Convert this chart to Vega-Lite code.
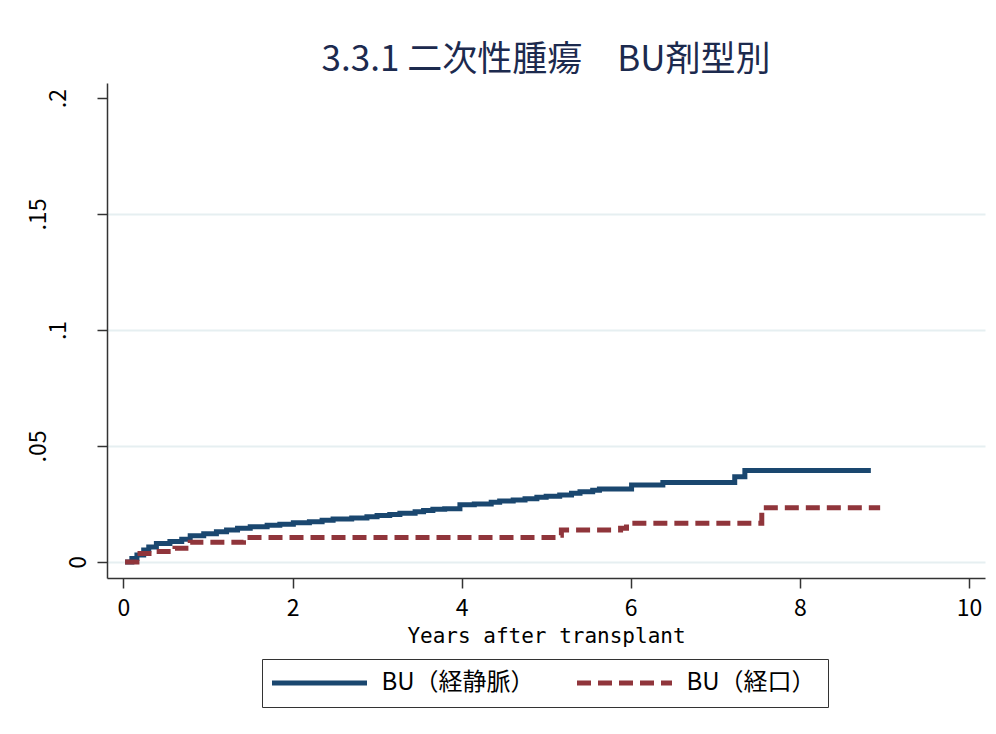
{
  "$schema": "https://vega.github.io/schema/vega-lite/v6.json",
  "width": 878,
  "height": 495,
  "autosize": {"type": "none"},
  "padding": {"left": 107, "top": 83, "right": 11, "bottom": 156},
  "background": "white",
  "config": {
    "view": {"stroke": null},
    "legend": {
      "title": null,
      "orient": "none",
      "legendX": 155,
      "legendY": 576,
      "direction": "horizontal",
      "columns": 2,
      "strokeColor": "#333333",
      "fillColor": "white",
      "padding": 12,
      "symbolType": "M-5,0H5",
      "symbolSize": 361,
      "symbolStrokeWidth": 5,
      "symbolOffset": 33.5,
      "labelOffset": 50,
      "labelFont": "Noto Sans CJK JP",
      "labelFontSize": 24,
      "labelColor": "#000000",
      "columnPadding": 32,
      "labelLimit": 300
    }
  },
  "title": {
    "text": "3.3.1 二次性腫瘍　BU剤型別",
    "font": "Noto Sans CJK JP",
    "fontSize": 35,
    "fontWeight": "normal",
    "color": "#1c2a4e",
    "anchor": "middle",
    "baseline": "alphabetic",
    "offset": 9,
    "dy": 32
  },
  "data": {
    "values": [
      {"group": "BU（経静脈）", "years": 0.02, "ci": 0},
      {"group": "BU（経静脈）", "years": 0.1, "ci": 0.0015},
      {"group": "BU（経静脈）", "years": 0.16, "ci": 0.003},
      {"group": "BU（経静脈）", "years": 0.24, "ci": 0.0052},
      {"group": "BU（経静脈）", "years": 0.3, "ci": 0.0065},
      {"group": "BU（経静脈）", "years": 0.39, "ci": 0.008},
      {"group": "BU（経静脈）", "years": 0.55, "ci": 0.0088},
      {"group": "BU（経静脈）", "years": 0.69, "ci": 0.0098},
      {"group": "BU（経静脈）", "years": 0.79, "ci": 0.0113},
      {"group": "BU（経静脈）", "years": 0.95, "ci": 0.0122},
      {"group": "BU（経静脈）", "years": 1.1, "ci": 0.013},
      {"group": "BU（経静脈）", "years": 1.22, "ci": 0.0138},
      {"group": "BU（経静脈）", "years": 1.35, "ci": 0.0145},
      {"group": "BU（経静脈）", "years": 1.5, "ci": 0.0152},
      {"group": "BU（経静脈）", "years": 1.7, "ci": 0.0158},
      {"group": "BU（経静脈）", "years": 1.85, "ci": 0.0163},
      {"group": "BU（経静脈）", "years": 2.01, "ci": 0.0169},
      {"group": "BU（経静脈）", "years": 2.2, "ci": 0.0174},
      {"group": "BU（経静脈）", "years": 2.35, "ci": 0.018},
      {"group": "BU（経静脈）", "years": 2.48, "ci": 0.0185},
      {"group": "BU（経静脈）", "years": 2.7, "ci": 0.019},
      {"group": "BU（経静脈）", "years": 2.88, "ci": 0.0195},
      {"group": "BU（経静脈）", "years": 3.0, "ci": 0.02},
      {"group": "BU（経静脈）", "years": 3.15, "ci": 0.0205},
      {"group": "BU（経静脈）", "years": 3.27, "ci": 0.021},
      {"group": "BU（経静脈）", "years": 3.45, "ci": 0.0217},
      {"group": "BU（経静脈）", "years": 3.55, "ci": 0.0222},
      {"group": "BU（経静脈）", "years": 3.66, "ci": 0.0227},
      {"group": "BU（経静脈）", "years": 3.8, "ci": 0.023},
      {"group": "BU（経静脈）", "years": 3.98, "ci": 0.0247},
      {"group": "BU（経静脈）", "years": 4.15, "ci": 0.025},
      {"group": "BU（経静脈）", "years": 4.35, "ci": 0.0258},
      {"group": "BU（経静脈）", "years": 4.45, "ci": 0.0263},
      {"group": "BU（経静脈）", "years": 4.61, "ci": 0.0267},
      {"group": "BU（経静脈）", "years": 4.75, "ci": 0.0273},
      {"group": "BU（経静脈）", "years": 4.89, "ci": 0.0279},
      {"group": "BU（経静脈）", "years": 5.0, "ci": 0.0283},
      {"group": "BU（経静脈）", "years": 5.16, "ci": 0.0289},
      {"group": "BU（経静脈）", "years": 5.3, "ci": 0.0296},
      {"group": "BU（経静脈）", "years": 5.4, "ci": 0.0303},
      {"group": "BU（経静脈）", "years": 5.55, "ci": 0.0309},
      {"group": "BU（経静脈）", "years": 5.63, "ci": 0.0315},
      {"group": "BU（経静脈）", "years": 6.01, "ci": 0.0332},
      {"group": "BU（経静脈）", "years": 6.38, "ci": 0.0343},
      {"group": "BU（経静脈）", "years": 7.23, "ci": 0.0368},
      {"group": "BU（経静脈）", "years": 7.35, "ci": 0.0394},
      {"group": "BU（経静脈）", "years": 8.84, "ci": 0.0394},
      {"group": "BU（経口）", "years": 0.02, "ci": 0},
      {"group": "BU（経口）", "years": 0.16, "ci": 0.0037},
      {"group": "BU（経口）", "years": 0.39, "ci": 0.0045},
      {"group": "BU（経口）", "years": 0.61, "ci": 0.0059},
      {"group": "BU（経口）", "years": 0.79, "ci": 0.0085},
      {"group": "BU（経口）", "years": 1.42, "ci": 0.0095},
      {"group": "BU（経口）", "years": 1.45, "ci": 0.0106},
      {"group": "BU（経口）", "years": 5.12, "ci": 0.0115},
      {"group": "BU（経口）", "years": 5.18, "ci": 0.0138},
      {"group": "BU（経口）", "years": 5.88, "ci": 0.0145},
      {"group": "BU（経口）", "years": 5.95, "ci": 0.0167},
      {"group": "BU（経口）", "years": 7.55, "ci": 0.0234},
      {"group": "BU（経口）", "years": 8.95, "ci": 0.0234}
    ]
  },
  "mark": {"type": "line", "interpolate": "step-after", "strokeWidth": 5, "clip": true},
  "encoding": {
    "x": {
      "field": "years",
      "type": "quantitative",
      "scale": {"domain": [-0.194, 10.19], "nice": false, "zero": false},
      "axis": {
        "values": [0, 2, 4, 6, 8, 10],
        "format": "d",
        "grid": false,
        "tickSize": 10,
        "tickColor": "#333333",
        "tickWidth": 1.5,
        "domainColor": "#333333",
        "domainWidth": 1.5,
        "labelFont": "Noto Sans CJK JP",
        "labelFontSize": 23,
        "labelColor": "#000000",
        "labelBaseline": "alphabetic",
        "labelPadding": 27,
        "labelFlush": false,
        "labelOverlap": false,
        "title": "Years after transplant",
        "titleFont": "DejaVu Sans Mono",
        "titleFontSize": 21,
        "titleFontWeight": "normal",
        "titleColor": "#000000",
        "titleBaseline": "alphabetic",
        "titleY": 64
      }
    },
    "y": {
      "field": "ci",
      "type": "quantitative",
      "scale": {"domain": [-0.0069, 0.2065], "nice": false, "zero": false},
      "axis": {
        "values": [0, 0.05, 0.1, 0.15, 0.2],
        "labelExpr": "datum.value == 0 ? '0' : replace(format(datum.value, '.2~f'), '0.', '.')",
        "grid": true,
        "gridColor": {"condition": {"test": "datum.value == 0.2", "value": "transparent"}, "value": "#e6eff1"},
        "gridWidth": 2,
        "tickSize": 10,
        "tickColor": "#333333",
        "tickWidth": 1.5,
        "domainColor": "#333333",
        "domainWidth": 1.5,
        "labelFont": "Noto Sans CJK JP",
        "labelFontSize": 23,
        "labelColor": "#000000",
        "labelAngle": 270,
        "labelAlign": "center",
        "labelBaseline": "alphabetic",
        "labelPadding": {"condition": [{"test": "datum.value == 0", "value": 12}, {"test": "datum.value == 0.1 || datum.value == 0.2", "value": 32}], "value": 52},
        "labelOverlap": false,
        "title": null
      }
    },
    "color": {
      "field": "group",
      "type": "nominal",
      "scale": {"domain": ["BU（経静脈）", "BU（経口）"], "range": ["#1a476f", "#90353b"]},
      "legend": {"title": null}
    },
    "strokeDash": {
      "field": "group",
      "type": "nominal",
      "scale": {"domain": ["BU（経静脈）", "BU（経口）"], "range": [[1, 0], [14, 7]]},
      "legend": {"title": null}
    }
  }
}
